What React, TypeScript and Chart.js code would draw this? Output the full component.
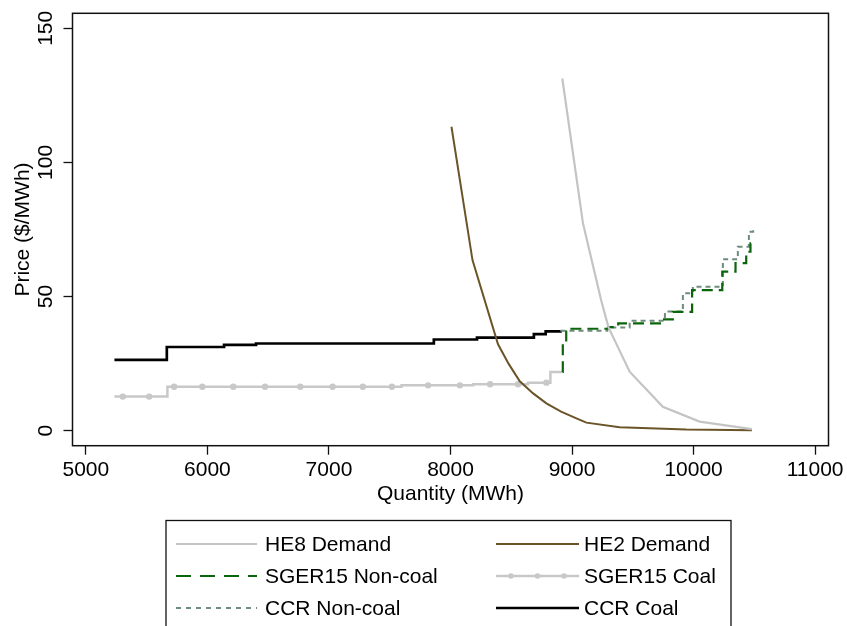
import React, { useEffect, useRef } from 'react';
import { Chart, registerables } from 'chart.js';

Chart.register(...registerables);

// ---- Data ----
const xTickValues = [5000, 6000, 7000, 8000, 9000, 10000, 11000];
const yTickValues = [0, 50, 100, 150];

const he8Demand: [number, number][] = [
  [8920, 131.3], [9090, 77.3], [9240, 48.5], [9300, 38.5], [9474, 22.0],
  [9747, 8.9], [10049, 3.4], [10480, 0.6],
];
const he2Demand: [number, number][] = [
  [8008, 113.3], [8181, 63.6], [8391, 32.2], [8480, 24.8], [8570, 18.4],
  [8680, 13.9], [8789, 10.2], [8910, 7.1], [9036, 4.6], [9118, 3.0],
  [9392, 1.3], [9940, 0.4], [10480, 0.2],
];
const sgerNonCoal: [number, number][] = [
  [8922, 21.9], [8924, 33.0], [8952, 38.0], [9300, 38.6], [9380, 40.0],
  [9747, 41.5], [9829, 44.3], [9988, 52.4], [10236, 59.3], [10345, 62.5],
  [10433, 66.7], [10468, 69.8], [10490, 70.5],
];
const sgerCoal: [number, number][] = [
  [5235, 12.7], [5671, 16.4], [7597, 16.9], [8186, 17.3], [8638, 17.9],
  [8822, 21.9], [8922, 21.9],
];
const sgerCoalMarkerX = [
  5304, 5521, 5726, 5958, 6213, 6474, 6764, 7030, 7279, 7518, 7816, 8077,
  8326, 8556, 8789,
];
const ccrNonCoal: [number, number][] = [
  [8905, 37.3], [9290, 38.5], [9474, 41.0], [9764, 44.4], [9912, 51.2],
  [9994, 53.7], [10241, 63.9], [10364, 68.6], [10455, 74.2], [10490, 75.0],
];
const ccrCoal: [number, number][] = [
  [5235, 26.4], [5666, 31.2], [6137, 32.0], [6400, 32.5], [7863, 34.0],
  [8218, 34.7], [8686, 36.0], [8783, 37.0], [8905, 37.3],
];

const legendLabels = [
  'HE8 Demand', 'HE2 Demand', 'SGER15 Non-coal', 'SGER15 Coal', 'CCR Non-coal', 'CCR Coal',
];

const FONT = "'Liberation Sans', Arial, sans-serif";

function toPts(a: [number, number][]) {
  return a.map(([x, y]) => ({ x, y }));
}

function stepValueAt(steps: [number, number][], x: number) {
  let y = steps[0][1];
  for (const [sx, sy] of steps) {
    if (sx <= x) y = sy;
  }
  return y;
}

const framePlugin = {
  id: 'frame',
  afterDatasetsDraw(chart: any) {
    const { ctx, chartArea: a } = chart;
    ctx.save();
    ctx.strokeStyle = '#111';
    ctx.lineWidth = 1.5;
    ctx.setLineDash([]);
    ctx.strokeRect(a.left, a.top, a.right - a.left, a.bottom - a.top);
    ctx.restore();
  },
};

// Vertical (rotated) y tick labels, placed with the y scale
const yLabelPlugin = {
  id: 'yRotatedLabels',
  afterDraw(chart: any) {
    const { ctx } = chart;
    const yScale = chart.scales.y;
    ctx.save();
    ctx.fillStyle = '#000';
    ctx.font = `21px ${FONT}`;
    ctx.textAlign = 'center';
    ctx.textBaseline = 'middle';
    yScale.ticks.forEach((t: any) => {
      const py = yScale.getPixelForValue(t.value);
      ctx.save();
      ctx.translate(yScale.right - 27, py);
      ctx.rotate(-Math.PI / 2);
      ctx.fillText(String(t.value), 0, 1);
      ctx.restore();
    });
    ctx.restore();
  },
};

const gridLegendPlugin = {
  id: 'gridLegend',
  afterDraw(chart: any) {
    const ctx = chart.ctx;
    ctx.save();
    ctx.strokeStyle = '#111';
    ctx.lineWidth = 1.3;
    ctx.setLineDash([]);
    ctx.strokeRect(166, 520.5, 565, 140);
    const datasets = chart.data.datasets;
    legendLabels.forEach((label, i) => {
      const ds = datasets[i];
      const col = i % 2;
      const row = Math.floor(i / 2);
      const x0 = col ? 496 : 176;
      const x1 = col ? 579 : 257;
      const tx = col ? 584 : 265;
      const y = 544 + row * 32;
      ctx.beginPath();
      ctx.strokeStyle = ds.borderColor;
      ctx.lineWidth = ds.borderWidth;
      ctx.setLineDash(ds.legendDash || ds.borderDash || []);
      ctx.moveTo(x0, y);
      ctx.lineTo(x1, y);
      ctx.stroke();
      ctx.setLineDash([]);
      if (ds.legendMarkers) {
        ctx.fillStyle = ds.borderColor;
        [0.18, 0.5, 0.82].forEach((f) => {
          ctx.beginPath();
          ctx.arc(x0 + (x1 - x0) * f, y, 2.8, 0, Math.PI * 2);
          ctx.fill();
        });
      }
      ctx.fillStyle = '#000';
      ctx.font = `21px ${FONT}`;
      ctx.textBaseline = 'middle';
      ctx.textAlign = 'left';
      ctx.fillText(label, tx, y + 1);
    });
    ctx.restore();
  },
};

export default function App() {
  const ref = useRef<HTMLCanvasElement>(null);

  useEffect(() => {
    if (!ref.current) return;
    const coalMarkers = sgerCoalMarkerX.map((x) => ({ x, y: stepValueAt(sgerCoal, x) }));
    const chart = new Chart(ref.current, {
      type: 'line',
      data: {
        datasets: [
          {
            label: legendLabels[0], data: toPts(he8Demand), borderColor: '#C4C4C4',
            borderWidth: 2.2, pointRadius: 0, tension: 0,
          },
          {
            label: legendLabels[1], data: toPts(he2Demand), borderColor: '#6B5428',
            borderWidth: 2, pointRadius: 0, tension: 0,
          },
          {
            label: legendLabels[2], data: toPts(sgerNonCoal), borderColor: '#0B650B',
            borderWidth: 2.2, borderDash: [11, 6], legendDash: [15, 9], pointRadius: 0, stepped: true,
          } as any,
          {
            label: legendLabels[3], data: toPts(sgerCoal), borderColor: '#C8C8C8',
            borderWidth: 2.5, pointRadius: 0, stepped: true, legendMarkers: true,
          } as any,
          {
            label: legendLabels[4], data: toPts(ccrNonCoal), borderColor: '#6E8C7E',
            borderWidth: 2, borderDash: [5, 4], legendDash: [5, 5], pointRadius: 0, stepped: true,
          } as any,
          {
            label: legendLabels[5], data: toPts(ccrCoal), borderColor: '#000000',
            borderWidth: 2.7, pointRadius: 0, stepped: true,
          },
          {
            label: 'SGER15 Coal markers', data: coalMarkers, borderColor: '#C8C8C8',
            backgroundColor: '#C8C8C8', showLine: false, pointRadius: 3.2, pointBorderWidth: 0,
          } as any,
        ],
      },
      options: {
        responsive: false,
        animation: false,
        events: [],
        layout: { padding: { left: 0, top: 13.3, right: 18.5, bottom: 119 } },
        plugins: {
          legend: { display: false },
          tooltip: { enabled: false },
        },
        scales: {
          x: {
            type: 'linear',
            min: 4890,
            max: 11110,
            afterBuildTicks: (s: any) => { s.ticks = xTickValues.map((v) => ({ value: v })); },
            afterFit: (s: any) => { s.height = 61.3; },
            border: { display: false },
            grid: {
              drawOnChartArea: false, drawTicks: true, tickLength: 9, tickWidth: 1.3, tickColor: '#111',
            },
            ticks: {
              color: '#000', font: { family: FONT, size: 21 }, padding: 3, maxRotation: 0, autoSkip: false,
              callback: (v: any) => String(v),
            },
            title: {
              display: true, text: 'Quantity (MWh)', color: '#000',
              font: { family: FONT, size: 21, lineHeight: 1.2 }, padding: { top: 0, bottom: 0 },
            },
          },
          y: {
            type: 'linear',
            min: -5.6,
            max: 155.6,
            afterBuildTicks: (s: any) => { s.ticks = yTickValues.map((v) => ({ value: v })); },
            afterFit: (s: any) => { s.width = 72.5; },
            border: { display: false },
            grid: {
              drawOnChartArea: false, drawTicks: true, tickLength: 9, tickWidth: 1.3, tickColor: '#111',
            },
            ticks: { display: false },
            title: {
              display: true, text: 'Price ($/MWh)', color: '#000',
              font: { family: FONT, size: 21, lineHeight: 1.2 }, padding: { top: 11, bottom: 0 },
            },
          },
        },
      },
      plugins: [framePlugin, yLabelPlugin, gridLegendPlugin],
    } as any);
    return () => chart.destroy();
  }, []);

  return (
    <div style={{ position: 'absolute', left: 0, top: 0, width: 847, height: 626, background: '#fff', overflow: 'hidden' }}>
      <canvas ref={ref} width={847} height={626} style={{ display: 'block' }} />
    </div>
  );
}
